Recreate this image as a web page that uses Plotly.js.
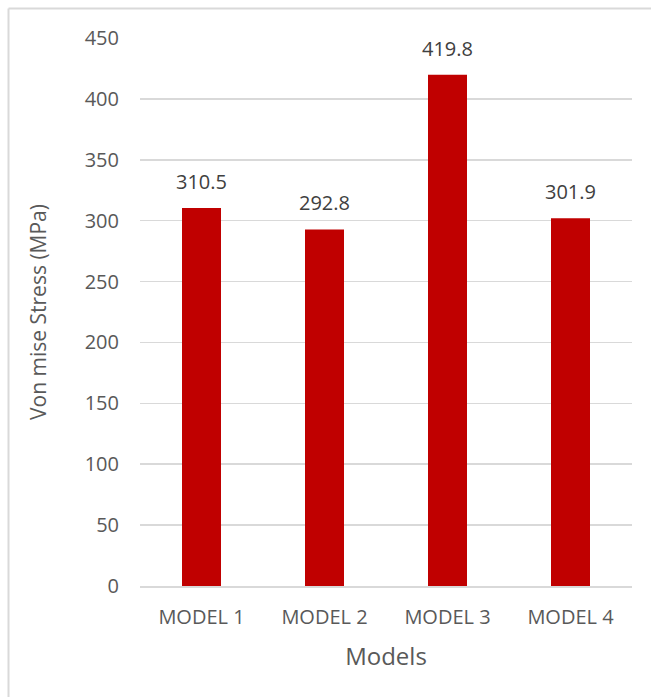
<!DOCTYPE html>
<html>
<head>
<meta charset="utf-8">
<script src="https://cdn.plot.ly/plotly-3.0.1.min.js"></script>
<style>html,body{margin:0;padding:0;background:#fff;}#chart{width:651px;height:697px;}</style>
</head>
<body>
<div id="chart"></div>
<script>
const categories = ["MODEL 1", "MODEL 2", "MODEL 3", "MODEL 4"];
const stressValues = [310.5, 292.8, 419.8, 301.9];
const yTickValues = [0, 50, 100, 150, 200, 250, 300, 350, 400, 450];

const L = 140, R = 632, T = 38, B = 586, W = 651, H = 697;
const px = v => (v - L) / (R - L);
const py = v => (B - v) / (B - T);
const FONT = 'Open Sans, Liberation Sans, sans-serif';

const trace = {
  type: 'bar',
  x: categories,
  y: stressValues,
  marker: {color: '#c00000'},
  hoverinfo: 'none'
};

const labels = categories.map((c, i) => ({
  x: c, y: stressValues[i], xref: 'x', yref: 'y',
  text: stressValues[i].toFixed(1),
  showarrow: false, yanchor: 'bottom', yshift: 11,
  font: {family: FONT, size: 20, color: '#404040'}
}));

const layout = {
  width: W, height: H,
  margin: {l: L, r: W - R, t: T, b: H - B, pad: 0},
  paper_bgcolor: '#ffffff',
  plot_bgcolor: '#ffffff',
  showlegend: false,
  bargap: 0.683,
  font: {family: FONT, color: '#595959'},
  annotations: labels,
  xaxis: {
    type: 'category',
    showgrid: false,
    showline: true, linecolor: '#d9d9d9', linewidth: 2,
    ticks: '',
    ticklabelstandoff: 12,
    tickfont: {size: 20, color: '#595959'},
    title: {text: 'Models', font: {size: 24, color: '#595959'}, standoff: 19},
    automargin: false
  },
  yaxis: {
    range: [0, 450],
    tickvals: yTickValues,
    ticktext: yTickValues.map(String),
    showgrid: true, gridcolor: '#d9d9d9', gridwidth: 1.5,
    zeroline: false,
    showline: false,
    ticks: '',
    ticklabelstandoff: 20,
    tickfont: {size: 20, color: '#595959'},
    title: {text: 'Von mise Stress (MPa)', font: {size: 21, color: '#595959'}, standoff: 32},
    automargin: false
  },
  shapes: [
    {type: 'line', xref: 'paper', yref: 'paper', x0: px(8.5), x1: px(660), y0: py(8.5), y1: py(8.5), line: {color: '#d9d9d9', width: 2}},
    {type: 'line', xref: 'paper', yref: 'paper', x0: px(8.5), x1: px(8.5), y0: py(8.5), y1: py(710), line: {color: '#d9d9d9', width: 2}}
  ]
};

Plotly.newPlot('chart', [trace], layout, {displayModeBar: false, staticPlot: true});
</script>
</body>
</html>
